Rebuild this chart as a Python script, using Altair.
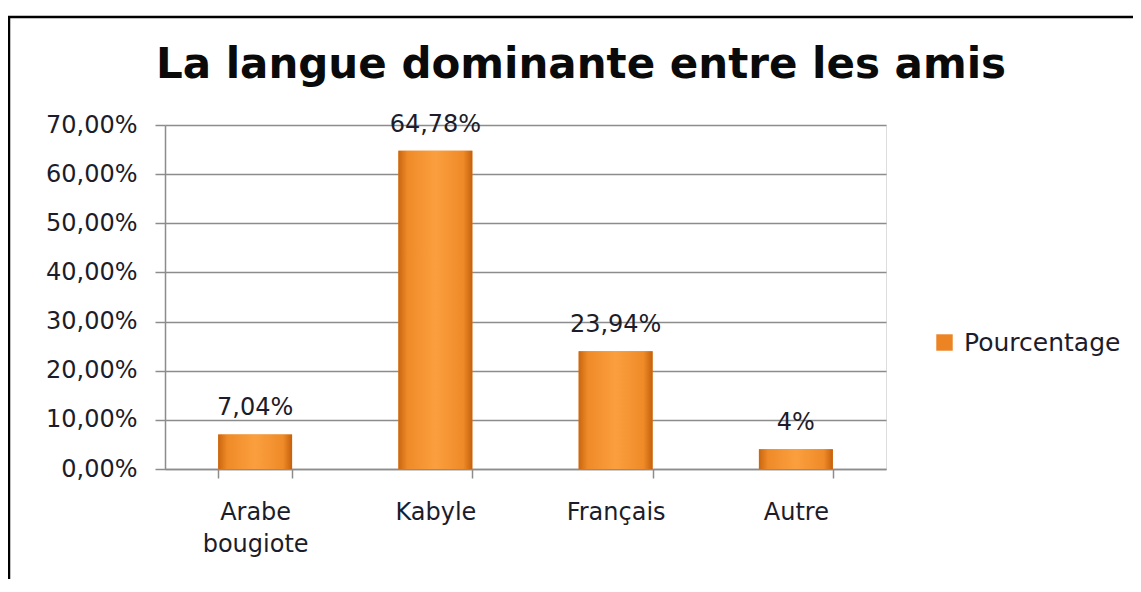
import altair as alt
import pandas as pd

categories = ["Arabe|bougiote", "Kabyle", "Français", "Autre"]
values = [7.04, 64.78, 23.94, 4.0]
value_labels = ["7,04%", "64,78%", "23,94%", "4%"]
series_name = "Pourcentage"
y_ticks = [0, 10, 20, 30, 40, 50, 60, 70]
title_text = "La langue dominante entre les amis"

df = pd.DataFrame({"cat": categories, "val": values, "lab": value_labels, "serie": [series_name] * 4})

FONT = "DejaVu Sans"
TXT = "#1c1c2a"
GRID = "#8c8c8c"

x_enc = alt.X(
    "cat:N", sort=categories, title=None,
    scale=alt.Scale(paddingInner=0.59, paddingOuter=0.295),
    axis=alt.Axis(
        labelExpr="split(datum.label, '|')", labelAngle=0, labelFont=FONT, labelFontSize=24,
        labelColor=TXT, labelLineHeight=32, labelPadding=22, tickSize=9, tickColor=GRID,
        domainColor=GRID, domainWidth=1.5, tickWidth=1.5, tickBand="extent", labelBaseline="top",
        grid=False,
    ),
)
y_enc = alt.Y(
    "val:Q", title=None,
    scale=alt.Scale(domain=[0, 70], nice=False),
    axis=alt.Axis(
        values=y_ticks, labelExpr="replace(format(datum.value, '.2f'), '.', ',') + '%'",
        labelFont=FONT, labelFontSize=24, labelColor=TXT, labelPadding=18, tickSize=10,
        tickColor=GRID, domainColor=GRID, domainWidth=1.5, tickWidth=1.5,
        gridColor=GRID, gridWidth=1.5,
    ),
)

base = alt.Chart(df)

legend_bars = base.mark_bar().encode(
    x=x_enc, y=y_enc,
    color=alt.Color(
        "serie:N", scale=alt.Scale(range=["#ec8424"]),
        legend=alt.Legend(
            title=None, orient="none", legendX=767, legendY=205, symbolType="square",
            symbolSize=270, labelFont=FONT, labelFontSize=25, labelColor=TXT, labelOffset=7,
        ),
    ),
)

grad = alt.Gradient(
    gradient="linear", x1=0, x2=1, y1=0, y2=0,
    stops=[
        alt.GradientStop(color="#c9650f", offset=0),
        alt.GradientStop(color="#ef8a28", offset=0.12),
        alt.GradientStop(color="#fb9f3e", offset=0.5),
        alt.GradientStop(color="#ef8a28", offset=0.88),
        alt.GradientStop(color="#c4600c", offset=1),
    ],
)
grad_bars = base.mark_bar(fill=grad).encode(x=x_enc, y=y_enc)

labels = base.mark_text(
    baseline="alphabetic", dy=-19, font=FONT, fontSize=24, color=TXT
).encode(x=alt.X("cat:N", sort=categories), y="val:Q", text="lab:N")

one = alt.Chart(pd.DataFrame({"t": [title_text]}))
frame_top = one.mark_rule(color="black", strokeWidth=2.5).encode(
    x=alt.value(-157), x2=alt.value(1000), y=alt.value(-108)
)
frame_left = one.mark_rule(color="black", strokeWidth=2.5).encode(
    x=alt.value(-156), y=alt.value(-109), y2=alt.value(480)
)
title = one.mark_text(
    font=FONT, fontSize=42, fontWeight="bold", color="#0a0a0a", align="center", baseline="alphabetic"
).encode(x=alt.value(416), y=alt.value(-47), text="t:N")

chart = alt.layer(frame_top, frame_left, title, legend_bars, grad_bars, labels).properties(
    width=721, height=344,
    autosize=alt.AutoSizeParams(type="none"),
    padding={"left": 157, "top": 117, "right": 247, "bottom": 110},
).configure_view(stroke=None).configure(background="white")

chart.save("out.html", embed_options={"renderer": "svg", "actions": False})
